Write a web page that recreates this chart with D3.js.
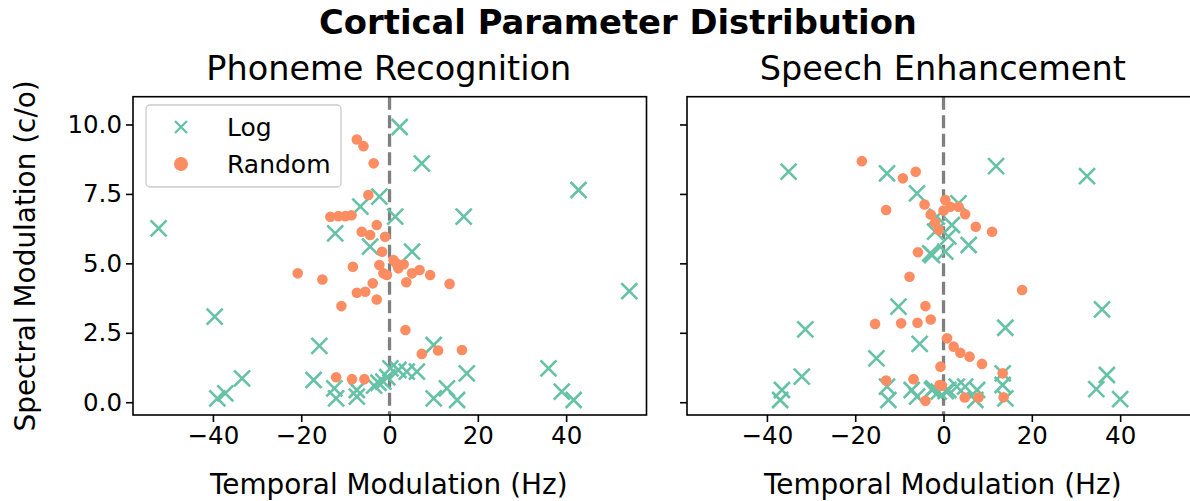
<!DOCTYPE html>
<html><head><meta charset="utf-8">
<script src="https://cdn.jsdelivr.net/npm/d3@7"></script>
<style>body{margin:0;background:#fff}svg{display:block;font-family:"DejaVu Sans",sans-serif}</style>
</head><body>
<script>
const panelTitles = ["Phoneme Recognition", "Speech Enhancement"];
const seriesNames = ["Log", "Random"];
const xTicks = [-40, -20, 0, 20, 40];
const yTicks = [0, 2.5, 5, 7.5, 10];

const phonemeLogX = [-52.3,-12.3,-6.6,-2.3,-4.4,2.3,7.3,42.8,1.3,16.8,5.1,54.3,-39.6,-15.9,-39.0,-37.2,-33.4,-17.2,-12.5,-12.1,-7.4,-7.4,-3.5,-2.5,-1.4,0.2,2.0,3.9,6.2,10.0,17.5,36.0,39.0,41.7,13.0,10.0,15.3,-0.5];
const phonemeLogY = [6.26,6.08,7.04,7.4,5.6,9.91,8.6,7.64,6.68,6.68,5.42,4.0,3.08,2.03,0.14,0.32,0.86,0.8,0.5,0.14,0.2,0.44,0.6,0.7,0.74,1.22,1.16,1.1,1.1,2.06,1.04,1.22,0.38,0.08,0.5,0.14,0.08,0.9];
const phonemeRandX = [-7.4,-5.9,-3.6,-4.8,-13.4,-11.6,-10,-8.6,-2.9,-6.3,-4.4,-1.0,-1.7,-20.8,-15.2,-8.3,-2.3,-1.4,-3.8,-5.5,-7.4,-2.9,-10.9,-12.1,-8.5,-5.7,0.9,3.2,2.0,6.8,5.1,9.2,3.8,13.6,-0.6,3.6,7.3,11.0,16.4,1.5];
const phonemeRandY = [9.46,9.22,8.6,7.46,6.68,6.7,6.7,6.73,6.38,6.14,6.02,5.96,5.42,4.64,4.42,4.88,4.94,4.64,4.28,3.98,3.94,3.7,3.46,0.9,0.83,0.83,5.12,4.97,4.82,4.76,4.64,4.58,4.32,4.26,4.58,2.6,1.74,1.86,1.88,5.0];

const speechLogX = [-35.1,-12.8,-6.0,-1.5,-1.9,-3.0,11.9,32.5,3.4,1.9,1.1,5.7,0.4,-2.6,-10.2,-31.3,-5.4,-15.2,-32.1,-36.6,-37.0,-12.8,-12.5,-7.2,-6.0,-2.6,-1.1,35.9,14.0,13.4,13.4,14.0,37.0,34.6,40.0,7.2,4.9,3.0,1.1,-2.3,7.6,0.5];
const speechLogY = [8.3,8.24,7.52,6.68,6.14,5.36,8.5,8.14,7.16,6.38,5.96,5.66,5.42,5.3,3.44,2.62,2.1,1.58,0.92,0.44,0.08,0.56,0.08,0.44,0.2,0.44,0.38,3.34,2.68,1.04,0.62,0.14,0.98,0.47,0.11,0.08,0.56,0.56,0.44,0.5,0.44,0.4];
const speechRandX = [-18.5,-9.2,-6.3,-4.3,-13.0,-2.9,-1.9,-1.1,-5.8,0.4,1.5,3.4,4.9,7.3,11.0,0.0,-7.7,-4.1,-15.5,-9.6,-5.9,-2.9,-13.0,-6.8,-4.1,-0.7,-0.9,17.8,0.8,2.3,3.8,5.9,8.7,13.4,13.6,4.8,7.9,-0.4];
const speechRandY = [8.68,8.06,8.3,7.12,6.92,6.76,6.46,6.2,5.4,7.28,7.04,7.04,6.77,6.32,6.14,6.9,4.52,3.46,2.82,2.84,2.86,2.98,0.78,0.83,0.05,1.28,0.62,4.04,2.3,2.0,1.78,1.64,1.38,1.04,0.18,0.17,0.17,0.59];

const colors = {Log: "#66c2a5", Random: "#fc8d62"};

const W = 1190, H = 501;
const svg = d3.select("body").append("svg").attr("width", W).attr("height", H);

const panelW = 513.5, plotTop = 96.7, plotBottom = 415;
const lefts = [133, 687];
const xDomain = [-58.1, 58.2], yDomain = [-0.46, 11.0];

svg.append("text").attr("x", 618).attr("y", 34).attr("text-anchor", "middle")
  .attr("font-size", 33.8).attr("font-weight", "bold").text("Cortical Parameter Distribution");

const panels = [
  {lx: phonemeLogX, ly: phonemeLogY, rx: phonemeRandX, ry: phonemeRandY},
  {lx: speechLogX, ly: speechLogY, rx: speechRandX, ry: speechRandY}
];

panels.forEach((p, i) => {
  const x = d3.scaleLinear().domain(xDomain).range([lefts[i], lefts[i] + panelW]);
  const y = d3.scaleLinear().domain(yDomain).range([plotBottom, plotTop]);
  const g = svg.append("g");
  const cid = "clip" + i;
  svg.append("clipPath").attr("id", cid).append("rect")
    .attr("x", lefts[i]).attr("y", plotTop).attr("width", panelW).attr("height", plotBottom - plotTop);

  g.append("text").attr("x", lefts[i] + panelW / 2 - 1).attr("y", 80).attr("text-anchor", "middle")
    .attr("font-size", 33.5).text(panelTitles[i]);

  const plot = g.append("g").attr("clip-path", `url(#${cid})`);
  plot.append("line").attr("x1", x(0)).attr("x2", x(0)).attr("y1", plotTop).attr("y2", plotBottom)
    .attr("stroke", "#808080").attr("stroke-width", 3.3).attr("stroke-dasharray", "13,5.5");

  const logPts = p.lx.map((v, k) => [v, p.ly[k]]);
  const randPts = p.rx.map((v, k) => [v, p.ry[k]]);
  const s = 8;
  plot.selectAll(".lg").data(logPts).enter().append("path")
    .attr("d", d => `M${x(d[0]) - s},${y(d[1]) - s}L${x(d[0]) + s},${y(d[1]) + s}M${x(d[0]) - s},${y(d[1]) + s}L${x(d[0]) + s},${y(d[1]) - s}`)
    .attr("stroke", colors.Log).attr("stroke-width", 2.6).attr("fill", "none");
  plot.selectAll(".rd").data(randPts).enter().append("circle")
    .attr("cx", d => x(d[0])).attr("cy", d => y(d[1])).attr("r", 5.3)
    .attr("fill", colors.Random);

  const xa = g.append("g").attr("transform", `translate(0,${plotBottom})`)
    .call(d3.axisBottom(x).tickValues(xTicks).tickSize(7).tickPadding(5).tickFormat(d => d < 0 ? "\u2212" + Math.abs(d) : d));
  const ya = g.append("g").attr("transform", `translate(${lefts[i]},0)`)
    .call(d3.axisLeft(y).tickValues(yTicks).tickSize(7).tickPadding(4).tickFormat(i === 0 ? d3.format(".1f") : () => ""));
  [xa, ya].forEach(a => {
    a.select(".domain").remove();
    a.selectAll("line").attr("stroke", "#000").attr("stroke-width", 1.6);
    a.selectAll("text").attr("font-size", 24.5).attr("fill", "#000").attr("font-family", "DejaVu Sans");
  });
  g.append("rect").attr("x", lefts[i]).attr("y", plotTop).attr("width", panelW).attr("height", plotBottom - plotTop)
    .attr("fill", "none").attr("stroke", "#000").attr("stroke-width", 1.6);

  g.append("text").attr("x", lefts[i] + panelW / 2 - 1).attr("y", 494).attr("text-anchor", "middle")
    .attr("font-size", 27.9).text("Temporal Modulation (Hz)");

  if (i === 0) {
    g.append("text").attr("transform", `translate(35,${(plotTop + plotBottom) / 2}) rotate(-90)`)
      .attr("text-anchor", "middle").attr("font-size", 27.9).text("Spectral Modulation (c/o)");
    const lg = g.append("g");
    lg.append("rect").attr("x", 146).attr("y", 105).attr("width", 195).attr("height", 82).attr("rx", 4)
      .attr("fill", "#fff").attr("fill-opacity", 0.8).attr("stroke", "#ccc").attr("stroke-width", 1.3);
    const cx = 181;
    const ly1 = 127, ly2 = 164, ls = 6;
    lg.append("path").attr("d", `M${cx - ls},${ly1 - ls}L${cx + ls},${ly1 + ls}M${cx - ls},${ly1 + ls}L${cx + ls},${ly1 - ls}`)
      .attr("stroke", colors.Log).attr("stroke-width", 2.4);
    lg.append("circle").attr("cx", cx).attr("cy", ly2).attr("r", 7).attr("fill", colors.Random);
    lg.append("text").attr("x", 227).attr("y", ly1 + 9).attr("font-size", 25).text(seriesNames[0]);
    lg.append("text").attr("x", 227).attr("y", ly2 + 9).attr("font-size", 25).text(seriesNames[1]);
  }
});
</script>
</body></html>
